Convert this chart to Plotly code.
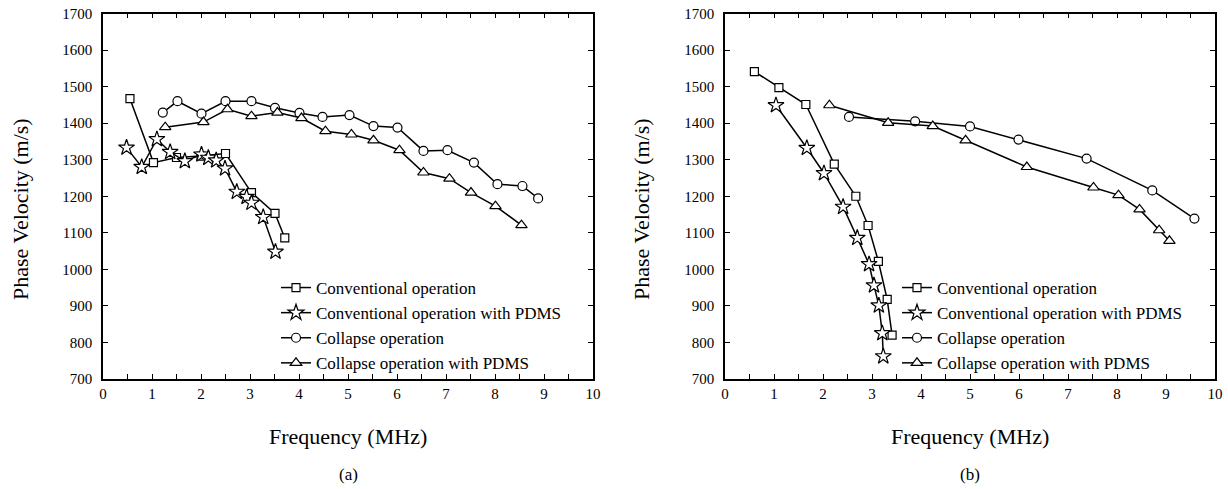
import plotly.graph_objects as go

# ---- data: panel (a) ----
a_conv_x = [0.55, 1.03, 1.50, 2.00, 2.50, 3.03, 3.51, 3.71]
a_conv_y = [1467, 1292, 1306, 1310, 1317, 1210, 1153, 1086]
a_convp_x = [0.48, 0.79, 1.10, 1.37, 1.67, 2.01, 2.15, 2.31, 2.49, 2.73, 2.93, 3.03, 3.27, 3.52]
a_convp_y = [1333, 1280, 1356, 1321, 1296, 1314, 1305, 1298, 1276, 1212, 1198, 1182, 1143, 1048]
a_coll_x = [1.22, 1.52, 2.01, 2.50, 3.03, 3.51, 4.01, 4.48, 5.03, 5.52, 6.01, 6.54, 7.03, 7.57, 8.05, 8.56, 8.88]
a_coll_y = [1429, 1460, 1426, 1460, 1460, 1442, 1428, 1417, 1422, 1392, 1388, 1324, 1326, 1292, 1233, 1228, 1194]
a_collp_x = [1.27, 2.05, 2.54, 3.03, 3.56, 4.05, 4.54, 5.07, 5.52, 6.05, 6.54, 7.07, 7.51, 8.01, 8.54]
a_collp_y = [1389, 1403, 1438, 1419, 1429, 1414, 1378, 1369, 1353, 1326, 1265, 1248, 1210, 1173, 1121]

# ---- data: panel (b) ----
b_conv_x = [0.60, 1.10, 1.65, 2.23, 2.67, 2.92, 3.13, 3.31, 3.41]
b_conv_y = [1541, 1497, 1451, 1288, 1200, 1120, 1022, 918, 820]
b_convp_x = [1.04, 1.67, 2.02, 2.41, 2.70, 2.94, 3.04, 3.14, 3.21, 3.23]
b_convp_y = [1449, 1332, 1263, 1171, 1086, 1014, 956, 901, 825, 762]
b_coll_x = [2.53, 3.88, 5.00, 5.99, 7.38, 8.72, 9.58]
b_coll_y = [1417, 1405, 1391, 1355, 1303, 1216, 1139]
b_collp_x = [2.13, 3.33, 4.24, 4.91, 6.16, 7.52, 8.03, 8.46, 8.86, 9.07]
b_collp_y = [1449, 1401, 1392, 1353, 1280, 1224, 1203, 1164, 1107, 1078]

names = ["Conventional operation", "Conventional operation with PDMS",
         "Collapse operation", "Collapse operation with PDMS"]
symbols = ["square", "star", "circle", "triangle-up"]
sizes = [8, 12, 9, 10]

x_title = "Frequency (MHz)"
y_title = "Phase Velocity (m/s)"
panel_labels = ["(a)", "(b)"]

FONT = "Liberation Serif"

fig = go.Figure()

panels = [
    ("x", "y", "legend", [(a_conv_x, a_conv_y), (a_convp_x, a_convp_y),
                          (a_coll_x, a_coll_y), (a_collp_x, a_collp_y)]),
    ("x2", "y2", "legend2", [(b_conv_x, b_conv_y), (b_convp_x, b_convp_y),
                             (b_coll_x, b_coll_y), (b_collp_x, b_collp_y)]),
]

for xa, ya, lg, series in panels:
    for (xs, ys), nm, sym, sz in zip(series, names, symbols, sizes):
        fig.add_trace(go.Scatter(
            x=xs, y=ys, name=nm, mode="lines+markers",
            xaxis=xa, yaxis=ya, legend=lg,
            line=dict(color="black", width=1.5),
            marker=dict(symbol=sym, size=sz, color="white",
                        line=dict(color="black", width=1.2)),
        ))

# body margin is removed by the post script, so the figure fills the window
W, H = 1228, 489


def px(sx):
    return sx / W


def py(sy):
    return 1 - sy / H


ydom = [py(379), py(13.5)]

axis_common = dict(
    showline=True, linecolor="black", linewidth=1.5, mirror="ticks",
    ticks="inside", ticklen=5, tickcolor="black", tickwidth=1,
    showgrid=False, zeroline=False, automargin=False, ticklabeloverflow="allow",
    tickfont=dict(family=FONT, size=15, color="black"),
)

xcommon = dict(axis_common, range=[0, 10], dtick=1, tick0=0,
               minor=dict(dtick=0.5, ticks="inside", ticklen=5, tickcolor="black", showgrid=False))
ycommon = dict(axis_common, range=[700, 1700], dtick=100, tick0=700, ticklabelstandoff=6)

legend_common = dict(xanchor="left", yanchor="top", bgcolor="rgba(0,0,0,0)",
                     font=dict(family=FONT, size=17, color="black"),
                     tracegroupgap=0, itemwidth=30)

TF = dict(family=FONT, size=22, color="black")
annotations = []
for cx, lab in zip([348, 970], panel_labels):
    annotations.append(dict(text=x_title, x=px(cx), y=py(436), xref="paper", yref="paper",
                            showarrow=False, font=TF, xanchor="center", yanchor="middle"))
    annotations.append(dict(text=lab, x=px(cx), y=py(474), xref="paper", yref="paper",
                            showarrow=False, font=dict(family=FONT, size=17, color="black"),
                            xanchor="center", yanchor="middle"))
for cx in [20, 641]:
    annotations.append(dict(text=y_title, x=px(cx), y=py(209), xref="paper", yref="paper",
                            showarrow=False, font=TF, textangle=-90,
                            xanchor="center", yanchor="middle"))

fig.update_layout(
    width=W, height=H,
    margin=dict(l=0, r=0, t=0, b=0, autoexpand=False),
    paper_bgcolor="white", plot_bgcolor="white",
    hovermode=False,
    xaxis=dict(xcommon, domain=[px(103), px(593)], anchor="y"),
    yaxis=dict(ycommon, domain=ydom, anchor="x"),
    xaxis2=dict(xcommon, domain=[px(725), px(1215)], anchor="y2"),
    yaxis2=dict(ycommon, domain=ydom, anchor="x2"),
    legend=dict(legend_common, x=px(276), y=py(270)),
    legend2=dict(legend_common, x=px(897), y=py(270)),
    annotations=annotations,
)

fig.write_html("out.html",
               config={"displayModeBar": False},
               post_script="document.body.style.margin='0';document.body.style.overflow='hidden';")
